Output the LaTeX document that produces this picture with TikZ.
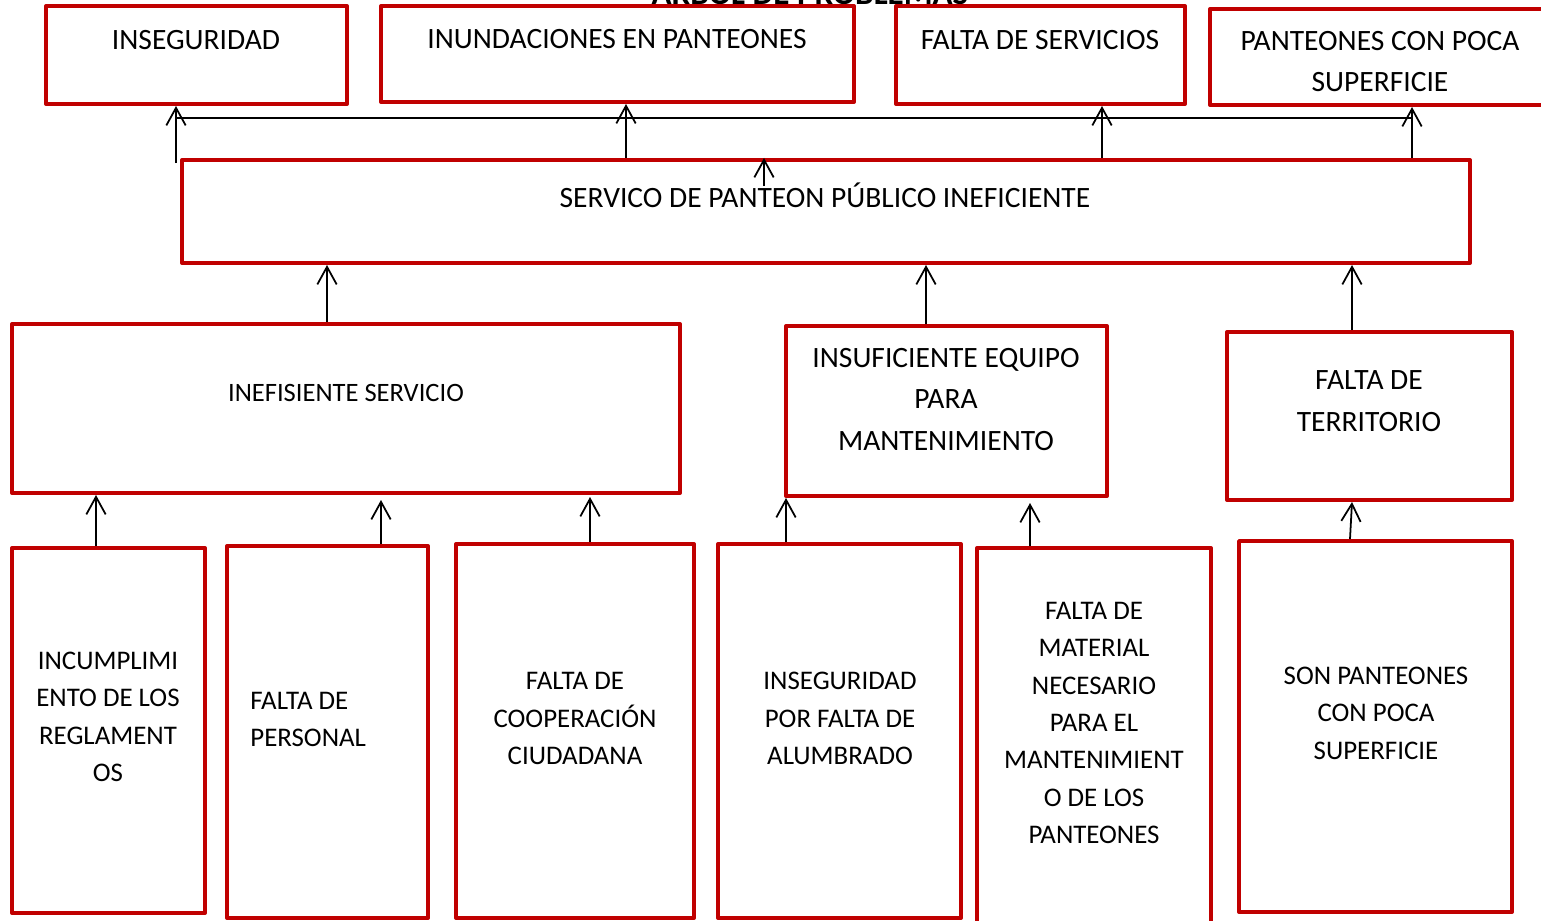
\documentclass[tikz,border=0pt]{standalone}
\usepackage{fontspec}
\setmainfont{Carlito}
\usetikzlibrary{arrows.meta,positioning,calc}
\definecolor{boxred}{RGB}{192,0,0}

\begin{document}
\begin{tikzpicture}[x=0.02cm, y=-0.02cm,
  box/.style={draw=boxred, line width=2.3pt, line join=round, inner sep=0pt},
  big/.style={font=\fontsize{16.8}{23.5}\selectfont, align=center, inner sep=0pt},
  small/.style={font=\fontsize{15.3}{21.3}\selectfont, align=center, inner sep=0pt},
  arr/.style={-{Straight Barb[length=10pt,width=11pt]}, line width=1pt},
  bus/.style={line width=1pt}]
  \useasboundingbox (0,0) rectangle (1541,920);

  \node[font=\bfseries\fontsize{18.8}{22}\selectfont, anchor=base] (titulo) at (810,4) {ARBOL DE PROBLEMAS};

  % efectos
  \node[box, minimum width=6.02cm, minimum height=1.96cm] (inseg) at (196.5,55) {};
  \node[box, minimum width=9.46cm, minimum height=1.92cm] (inund) at (617.5,54) {};
  \node[box, minimum width=5.78cm, minimum height=1.96cm] (servicios) at (1040.5,55) {};
  \node[box, minimum width=6.70cm, minimum height=1.92cm] (superf) at (1377.5,57) {};
  \node[big] (t-inseg) at (196,40) {INSEGURIDAD};
  \node[big] (t-inund) at (617,39) {INUNDACIONES EN PANTEONES};
  \node[big] (t-servicios) at (1040,40) {FALTA DE SERVICIOS};
  \node[big] (t-superf) at (1380,61.5) {PANTEONES CON POCA\\SUPERFICIE};

  % problema central
  \node[box, minimum width=25.76cm, minimum height=2.06cm] (problema) at (826,211.5) {};
  \node[big] (t-problema) at (825,195) {SERVICO DE PANTEON PÚBLICO INEFICIENTE};

  % causas
  \node[box, minimum width=13.36cm, minimum height=3.38cm] (inefic) at (346,408.5) {};
  \node[box, minimum width=6.42cm, minimum height=3.40cm] (equipo) at (946.5,411) {};
  \node[box, minimum width=5.70cm, minimum height=3.36cm] (territorio) at (1369.5,416) {};
  \node[big, font=\fontsize{15.1}{21}\selectfont] (t-inefic) at (346,393) {INEFISIENTE SERVICIO};
  \node[big] (t-equipo) at (946,399.5) {INSUFICIENTE EQUIPO\\PARA\\MANTENIMIENTO};
  \node[big] (t-territorio) at (1369,401) {FALTA DE\\TERRITORIO};

  % subcausas
  \node[box, minimum width=3.86cm, minimum height=7.30cm] (reglam) at (108.5,730.5) {};
  \node[box, minimum width=4.02cm, minimum height=7.44cm] (personal) at (327.5,732) {};
  \node[box, minimum width=4.76cm, minimum height=7.48cm] (cooper) at (575,731) {};
  \node[box, minimum width=4.86cm, minimum height=7.48cm] (alumbr) at (839.5,731) {};
  \node[box, minimum width=4.68cm, minimum height=7.64cm] (material) at (1094,739) {};
  \node[box, minimum width=5.46cm, minimum height=7.42cm] (poca) at (1375.5,726.5) {};
  \node[small] (t-reglam) at (108,717) {INCUMPLIMI\\ENTO DE LOS\\REGLAMENT\\OS};
  \node[small, align=left, anchor=west] (t-personal) at (250,719.5) {FALTA DE\\PERSONAL};
  \node[small] (t-cooper) at (575,718.5) {FALTA DE\\COOPERACIÓN\\CIUDADANA};
  \node[small] (t-alumbr) at (840,718.5) {INSEGURIDAD\\POR FALTA DE\\ALUMBRADO};
  \node[small] (t-material) at (1094,723) {FALTA DE\\MATERIAL\\NECESARIO\\PARA EL\\MANTENIMIENT\\O DE LOS\\PANTEONES};
  \node[small] (t-poca) at (1376,713) {SON PANTEONES\\CON POCA\\SUPERFICIE};

  % flechas hacia los efectos
  \coordinate (busL) at (176,118);
  \coordinate (busR) at (1412,118);
  \coordinate (s1) at (176,163);
  \coordinate (s2) at (764,186);
  \draw[bus] (busL) -- (busR);
  \draw[arr] (s1) -- (inseg.south -| s1);
  \draw[arr] (problema.north -| 626,0) -- (inund.south -| 626,0);
  \draw[arr] (problema.north -| 1102,0) -- (servicios.south -| 1102,0);
  \draw[arr] (problema.north -| busR) -- (superf.south -| busR);
  \draw[arr] (s2) -- (problema.north -| s2);

  % flechas hacia el problema
  \draw[arr] (inefic.north -| 327,0) -- (problema.south -| 327,0);
  \draw[arr] (equipo.north -| 926,0) -- (problema.south -| 926,0);
  \draw[arr] (territorio.north -| 1352,0) -- (problema.south -| 1352,0);

  % flechas hacia las causas
  \draw[arr] (reglam.north -| 96,0) -- (inefic.south -| 96,0);
  \draw[arr] (personal.north -| 381,0) -- (381,500);
  \draw[arr] (cooper.north -| 590,0) -- (590,497);
  \draw[arr] (alumbr.north -| 786,0) -- (equipo.south -| 786,0);
  \draw[arr] (material.north -| 1030,0) -- (1030,503);
  \draw[arr] (poca.north -| 1350,0) -- (territorio.south -| 1352,0);
\end{tikzpicture}
\end{document}
